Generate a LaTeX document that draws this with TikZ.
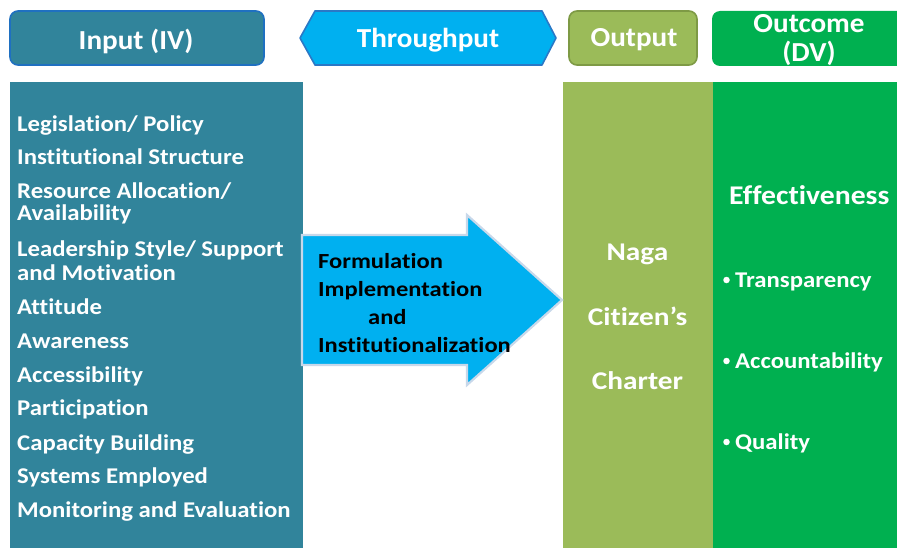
\documentclass[tikz,border=0pt]{standalone}
\usepackage{fontspec}
\setmainfont{Carlito}[Ligatures=NoCommon]
\newfontfamily\hdrfont{Carlito}[Ligatures=NoCommon, FakeStretch=1.06]
\newfontfamily\itemfont{Carlito}[Ligatures=NoCommon, FakeStretch=1.1]
\newfontfamily\flowfont{Carlito}[Ligatures=NoCommon, FakeStretch=1.14]
\newfontfamily\chartfont{Carlito}[Ligatures=NoCommon, FakeStretch=1.15]
\definecolor{teal}{HTML}{31849B}
\definecolor{tealedge}{HTML}{1F70C1}
\definecolor{sky}{HTML}{00B0F0}
\definecolor{skyedge}{HTML}{2A78C6}
\definecolor{olive}{HTML}{9BBB59}
\definecolor{oliveedge}{HTML}{7E9A45}
\definecolor{leaf}{HTML}{00B050}
\definecolor{arrowedge}{HTML}{C8D8EA}
\tikzset{
  hdr/.style={rounded corners=8pt, line width=1.6pt, inner sep=0pt},
  hdrtext/.style={text=white, font=\hdrfont\fontsize{27.5}{28}\selectfont\bfseries, inner sep=0pt, anchor=base},
  item/.style={text=white, font=\itemfont\fontsize{22.5}{24}\selectfont\bfseries, inner sep=0pt, anchor=base west},
  flow/.style={text=black, font=\flowfont\fontsize{21.5}{24}\selectfont\bfseries, inner sep=0pt, anchor=base west},
  charter/.style={text=white, font=\chartfont\fontsize{25.5}{26}\selectfont\bfseries, inner sep=0pt, anchor=base},
  bullet/.style={text=white, font=\itemfont\fontsize{22.5}{24}\selectfont\bfseries, inner sep=0pt, anchor=base west},
  dot/.style={circle, fill=white, inner sep=0pt, minimum size=6.5pt},
}
\begin{document}
\begin{tikzpicture}[x=1pt,y=-1pt]
\useasboundingbox (0,0) rectangle (897,548);

% header boxes
\draw[hdr, fill=teal, draw=tealedge] (10,11) rectangle (264,65);
\node[hdrtext] (intext) at (136,50) {Input (IV)};

\draw[fill=sky, draw=skyedge, line width=1.6pt, line join=round]
  (300,38) -- (315,11) -- (542,11) -- (556,38) -- (542,65) -- (315,65) -- cycle;
\node[hdrtext] (thrutext) at (428,47.5) {Throughput};

\draw[hdr, fill=olive, draw=oliveedge] (569,11) rectangle (697,65);
\node[hdrtext] (outtext) at (634,47) {Output};

\fill[leaf, rounded corners=8pt] (712,11) -- (712,66) -- (905,66) -- (905,11) -- cycle;
\node[hdrtext] (outcome1) at (809,33) {Outcome};
\node[hdrtext] (outcome2) at (809,62) {(DV)};

% columns
\fill[teal] (10,82) rectangle (303,548);
\fill[olive] (563,82) rectangle (712.5,548);
\fill[leaf] (712.5,82) rectangle (897,548);

% input variables
\node[item] (i1)  at (17,131.5) {Legislation/ Policy};
\node[item] (i2)  at (17,164.5) {Institutional Structure};
\node[item] (i3)  at (17,198.5) {Resource Allocation/};
\node[item] (i3b) at (17,221)   {Availability};
\node[item] (i4)  at (17,256)   {Leadership Style/ Support};
\node[item] (i4b) at (17,280)   {and Motivation};
\node[item] (i5)  at (17,314)   {Attitude};
\node[item] (i6)  at (17,348.5) {Awareness};
\node[item] (i7)  at (17,382.5) {Accessibility};
\node[item] (i8)  at (17,415.5) {Participation};
\node[item] (i9)  at (17,450)   {Capacity Building};
\node[item] (i10) at (17,483)   {Systems Employed};
\node[item] (i11) at (17,517.5) {Monitoring and Evaluation};

% throughput arrow
\draw[fill=sky, draw=arrowedge, line width=2.2pt, line join=miter]
  (302,235) -- (467,235) -- (467,215) -- (562,300) -- (467,385) -- (467,365) -- (302,365) -- cycle;
\node[flow] (f1) at (318,268.5) {Formulation};
\node[flow] (f2) at (318,296.5) {Implementation};
\node[flow] (f3) at (368,324.5) {and};
\node[flow] (f4) at (318,352.5) {Institutionalization};

% output
\node[charter] (o1) at (637.5,260.5) {Naga};
\node[charter] (o2) at (637.5,325)   {Citizen’s};
\node[charter] (o3) at (637.5,389.5) {Charter};

% outcome
\node[text=white, font=\itemfont\fontsize{27}{28}\selectfont\bfseries, inner sep=0pt, anchor=base west] (eff) at (729,205) {Effectiveness};
\node[dot] (d1) at (726.5,280) {};
\node[bullet] (b1) at (735,287.5) {Transparency};
\node[dot] (d2) at (726.5,361) {};
\node[bullet] (b2) at (735,368.5) {Accountability};
\node[dot] (d3) at (726.5,442) {};
\node[bullet] (b3) at (735,449.5) {Quality};
\end{tikzpicture}
\end{document}
